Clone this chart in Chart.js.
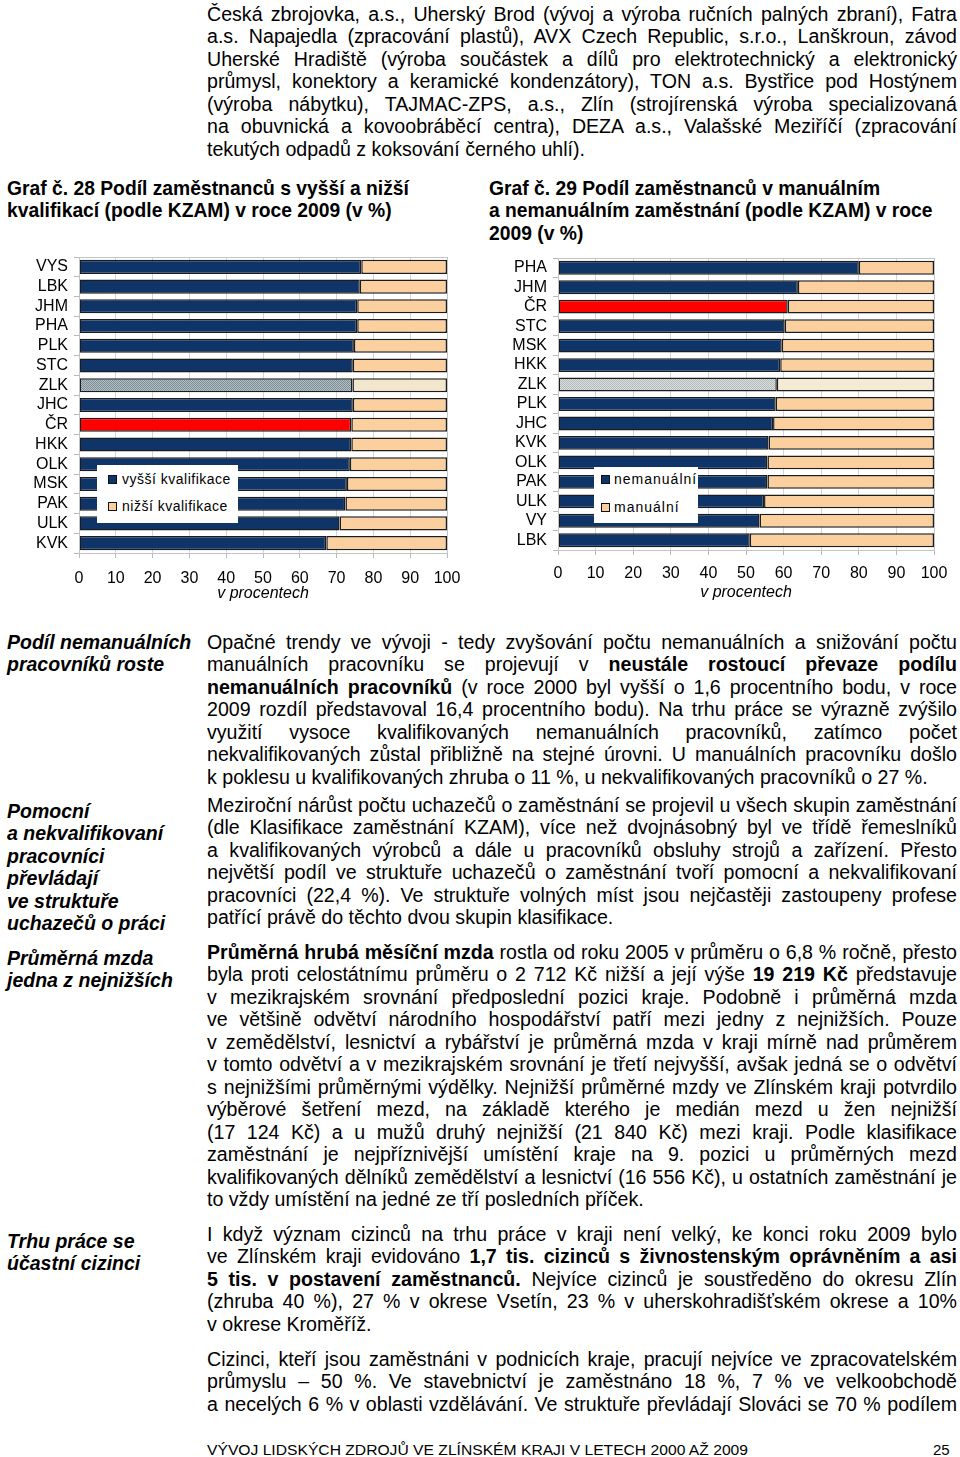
<!DOCTYPE html>
<html><head><meta charset="utf-8">
<script src="https://cdn.jsdelivr.net/npm/chart.js@4.4.1/dist/chart.umd.min.js"></script>
<style>
body{margin:0;width:960px;height:1457px;position:relative;background:#fff;font-family:"Liberation Sans",Arial,sans-serif;color:#000;overflow:hidden}
.p{position:absolute;left:207px;width:750px;font-size:19.6px;line-height:22.5px}
.p div{text-align:justify;text-align-last:justify;white-space:nowrap}
.p div.l{text-align-last:left}
.side{position:absolute;left:7px;font-size:19.5px;line-height:22.5px;font-weight:bold;font-style:italic}
.ttl{position:absolute;font-size:19.3px;line-height:22.5px;font-weight:bold}
canvas{position:absolute}
.leg{position:absolute;background:#fff;font-size:14px;letter-spacing:0.5px}
.leg span{position:absolute;line-height:18px;white-space:nowrap}
.mk{position:absolute;width:7px;height:7px;border:1px solid #111}
#foot{position:absolute;left:207px;top:1441px;font-family:"Liberation Sans Narrow","Liberation Sans",Arial,sans-serif;font-size:15px;line-height:18px;white-space:nowrap;transform-origin:0 0}
#pg{position:absolute;left:933px;top:1441px;font-family:"Liberation Sans Narrow","Liberation Sans",Arial,sans-serif;font-size:15px;line-height:18px}
</style></head>
<body>

<div class="p" style="top:2.75px">
<div>Česká zbrojovka, a.s., Uherský Brod (vývoj a výroba ručních palných zbraní), Fatra</div>
<div>a.s. Napajedla (zpracování plastů), AVX Czech Republic, s.r.o., Lanškroun, závod</div>
<div>Uherské Hradiště (výroba součástek a dílů pro elektrotechnický a elektronický</div>
<div>průmysl, konektory a keramické kondenzátory), TON a.s. Bystřice pod Hostýnem</div>
<div>(výroba nábytku), TAJMAC-ZPS, a.s., Zlín (strojírenská výroba specializovaná</div>
<div>na obuvnická a kovoobráběcí centra), DEZA a.s., Valašské Meziříčí (zpracování</div>
<div class="l">tekutých odpadů z koksování černého uhlí).</div>
</div>

<div class="ttl" style="left:7px;top:177.75px">Graf č. 28 Podíl zaměstnanců s vyšší a nižší<br>kvalifikací (podle KZAM) v roce 2009 (v %)</div>
<div class="ttl" style="left:489px;top:177.75px">Graf č. 29 Podíl zaměstnanců v manuálním<br>a nemanuálním zaměstnání (podle KZAM) v roce<br>2009 (v %)</div>

<canvas id="c1" width="470" height="360" style="left:0;top:250px"></canvas>
<canvas id="c2" width="480" height="360" style="left:480px;top:250px"></canvas>

<div class="leg" style="left:97px;top:465px;width:141px;height:58px">
  <div class="mk" style="left:11px;top:10px;background:#0f3468"></div><span style="left:25px;top:5px">vyšší kvalifikace</span>
  <div class="mk" style="left:11px;top:37px;background:#fcd09e"></div><span style="left:25px;top:32px">nižší kvalifikace</span>
</div>
<div class="leg" style="left:594px;top:467px;width:104px;height:56px;letter-spacing:1px">
  <div class="mk" style="left:7px;top:8px;background:#0f3468"></div><span style="left:20px;top:3px">nemanuální</span>
  <div class="mk" style="left:7px;top:36px;background:#fcd09e"></div><span style="left:20px;top:31px">manuální</span>
</div>

<div class="side" style="top:630.75px">Podíl nemanuálních<br>pracovníků roste</div>
<div class="side" style="top:799.75px">Pomocní<br>a nekvalifikovaní<br>pracovníci<br>převládají<br>ve struktuře<br>uchazečů o práci</div>
<div class="side" style="top:946.75px">Průměrná mzda<br>jedna z nejnižších</div>
<div class="side" style="top:1229.75px">Trhu práce se<br>účastní cizinci</div>

<div class="p" style="top:630.75px">
<div>Opačné trendy ve vývoji - tedy zvyšování počtu nemanuálních a snižování počtu</div>
<div>manuálních pracovníku se projevují v <b>neustále rostoucí převaze podílu</b></div>
<div><b>nemanuálních pracovníků</b> (v roce 2000 byl vyšší o 1,6 procentního bodu, v roce</div>
<div>2009 rozdíl představoval 16,4 procentního bodu). Na trhu práce se výrazně zvýšilo</div>
<div>využití vysoce kvalifikovaných nemanuálních pracovníků, zatímco počet</div>
<div>nekvalifikovaných zůstal přibližně na stejné úrovni. U manuálních pracovníku došlo</div>
<div class="l">k poklesu u kvalifikovaných zhruba o 11 %, u nekvalifikovaných pracovníků o 27 %.</div>
</div>

<div class="p" style="top:793.75px">
<div>Meziroční nárůst počtu uchazečů o zaměstnání se projevil u všech skupin zaměstnání</div>
<div>(dle Klasifikace zaměstnání KZAM), více než dvojnásobný byl ve třídě řemeslníků</div>
<div>a kvalifikovaných výrobců a dále u pracovníků obsluhy strojů a zařízení. Přesto</div>
<div>největší podíl ve struktuře uchazečů o zaměstnání tvoří pomocní a nekvalifikovaní</div>
<div>pracovníci (22,4 %). Ve struktuře volných míst jsou nejčastěji zastoupeny profese</div>
<div class="l">patřící právě do těchto dvou skupin klasifikace.</div>
</div>

<div class="p" style="top:940.75px">
<div><b>Průměrná hrubá měsíční mzda</b> rostla od roku 2005 v průměru o 6,8 % ročně, přesto</div>
<div>byla proti celostátnímu průměru o 2 712 Kč nižší a její výše <b>19 219 Kč</b> představuje</div>
<div>v mezikrajském srovnání předposlední pozici kraje. Podobně i průměrná mzda</div>
<div>ve většině odvětví národního hospodářství patří mezi jedny z nejnižších. Pouze</div>
<div>v zemědělství, lesnictví a rybářství je průměrná mzda v kraji mírně nad průměrem</div>
<div>v tomto odvětví a v mezikrajském srovnání je třetí nejvyšší, avšak jedná se o odvětví</div>
<div>s nejnižšími průměrnými výdělky. Nejnižší průměrné mzdy ve Zlínském kraji potvrdilo</div>
<div>výběrové šetření mezd, na základě kterého je medián mezd u žen nejnižší</div>
<div>(17 124 Kč) a u mužů druhý nejnižší (21 840 Kč) mezi kraji. Podle klasifikace</div>
<div>zaměstnání je nejpříznivější umístění kraje na 9. pozici u průměrných mezd</div>
<div>kvalifikovaných dělníků zemědělství a lesnictví (16 556 Kč), u ostatních zaměstnání je</div>
<div class="l">to vždy umístění na jedné ze tří posledních příček.</div>
</div>

<div class="p" style="top:1222.75px">
<div>I když význam cizinců na trhu práce v kraji není velký, ke konci roku 2009 bylo</div>
<div>ve Zlínském kraji evidováno <b>1,7 tis. cizinců s živnostenským oprávněním a asi</b></div>
<div><b>5 tis. v postavení zaměstnanců.</b> Nejvíce cizinců je soustředěno do okresu Zlín</div>
<div>(zhruba 40 %), 27 % v okrese Vsetín, 23 % v uherskohradišťském okrese a 10%</div>
<div class="l">v okrese Kroměříž.</div>
</div>

<div class="p" style="top:1347.75px">
<div>Cizinci, kteří jsou zaměstnáni v podnicích kraje, pracují nejvíce ve zpracovatelském</div>
<div>průmyslu – 50 %. Ve stavebnictví je zaměstnáno 18 %, 7 % ve velkoobchodě</div>
<div>a necelých 6 % v oblasti vzdělávání. Ve struktuře převládají Slováci se 70 % podílem</div>
</div>

<div id="foot">VÝVOJ LIDSKÝCH ZDROJŮ VE ZLÍNSKÉM KRAJI V LETECH 2000 AŽ 2009</div>
<div id="pg">25</div>

<script>
// ---- Data: Graf č. 28 ----
const kvalCategories = ['VYS','LBK','JHM','PHA','PLK','STC','ZLK','JHC','ČR','HKK','OLK','MSK','PAK','ULK','KVK'];
const vyssiKvalifikace = [76.7,76.3,75.6,75.6,74.7,74.4,74.3,74.4,74.0,74.0,73.6,72.8,72.4,70.8,67.2];
const nizsiKvalifikace = [23.3,23.7,24.4,24.4,25.3,25.6,25.7,25.6,26.0,26.0,26.4,27.2,27.6,29.2,32.8];

// ---- Data: Graf č. 29 ----
const manCategories = ['PHA','JHM','ČR','STC','MSK','HKK','ZLK','PLK','JHC','KVK','OLK','PAK','ULK','VY','LBK'];
const nemanualni = [80.0,63.8,61.1,60.3,59.5,59.1,58.2,57.9,57.2,56.0,55.7,55.7,54.8,53.6,51.0];
const manualni   = [20.0,36.2,38.9,39.7,40.5,40.9,41.8,42.1,42.8,44.0,44.3,44.3,45.2,46.4,49.0];

const xTicks = [0,10,20,30,40,50,60,70,80,90,100];

const NAVY='#0f3468', PEACH='#fcd09e', RED='#ff0000';
const FONT='"Liberation Sans", Arial, sans-serif';

function makePattern(c1,c2){
  const cv=document.createElement('canvas'); cv.width=2; cv.height=2;
  const g=cv.getContext('2d');
  g.fillStyle=c1; g.fillRect(0,0,2,2);
  g.fillStyle=c2; g.fillRect(0,0,1,1); g.fillRect(1,1,1,1);
  return g.createPattern(cv,'repeat');
}

const frame={id:'frame',afterDraw(ch){const a=ch.chartArea,c=ch.ctx;c.save();c.strokeStyle='#c4c4c4';c.lineWidth=1;c.strokeRect(Math.round(a.left)+0.5,Math.round(a.top)+0.5,Math.round(a.right-a.left),Math.round(a.bottom-a.top));c.restore();}};

function build(id,cats,s1,s2,lbl1,lbl2,zlkPat,zlk2,geo){
  const bg1=cats.map(c=>c==='ČR'?RED:(c==='ZLK'?zlkPat:NAVY));
  const bg2=cats.map(c=>c==='ZLK'?zlk2:PEACH);
  const ds=(label,data,bg)=>({label,data,backgroundColor:bg,borderColor:'#1c1c1c',borderWidth:1.5,borderSkipped:false,categoryPercentage:0.8,barPercentage:0.89});
  new Chart(document.getElementById(id),{
    type:'bar',
    data:{labels:cats,datasets:[ds(lbl1,s1,bg1),ds(lbl2,s2,bg2)]},
    options:{
      indexAxis:'y',responsive:false,animation:false,
      layout:{padding:{left:0,right:geo.pr,top:geo.pt,bottom:geo.pb}},
      plugins:{legend:{display:false},tooltip:{enabled:false}},
      scales:{
        x:{stacked:true,min:0,max:100,
           afterBuildTicks:s=>{s.ticks=xTicks.map(v=>({value:v}));},
           afterFit:s=>{s.height=geo.xh;s.paddingLeft=0;s.paddingRight=0;},
           ticks:{color:'#000',font:{family:FONT,size:16},padding:geo.xpad,maxRotation:0},
           grid:{color:'#d6d6d6',tickLength:5,tickColor:'#b8b8b8'},
           border:{color:'#b8b8b8'},
           title:{display:true,text:'v procentech',color:'#000',font:{family:FONT,size:16,style:'italic'},padding:{top:0,bottom:0}}},
        y:{stacked:true,
           afterFit:s=>{s.width=geo.yw;s.paddingTop=0;s.paddingBottom=0;},
           ticks:{color:'#000',font:{family:FONT,size:16},padding:geo.ypad,autoSkip:false},
           grid:{drawOnChartArea:false,tickLength:5,color:'#b8b8b8'},
           border:{color:'#b8b8b8'}}
      }
    },
    plugins:[frame]
  });
}

build('c1',kvalCategories,vyssiKvalifikace,nizsiKvalifikace,'vyšší kvalifikace','nižší kvalifikace',
      makePattern('#b4c0c4','#7a8d95'),'#f2e6cc',{pr:23,pt:7,pb:7,xh:50,yw:79,xpad:11,ypad:6});
build('c2',manCategories,nemanualni,manualni,'nemanuální','manuální',
      makePattern('#dcdfdf','#b3b9ba'),'#f5ead6',{pr:26,pt:8,pb:8,xh:52,yw:78,xpad:9,ypad:6});

// fit footer to its printed width
const f=document.getElementById('foot');
const w=f.getBoundingClientRect().width;
f.style.transform='scaleX('+(541/w)+')';
</script>
</body></html>
